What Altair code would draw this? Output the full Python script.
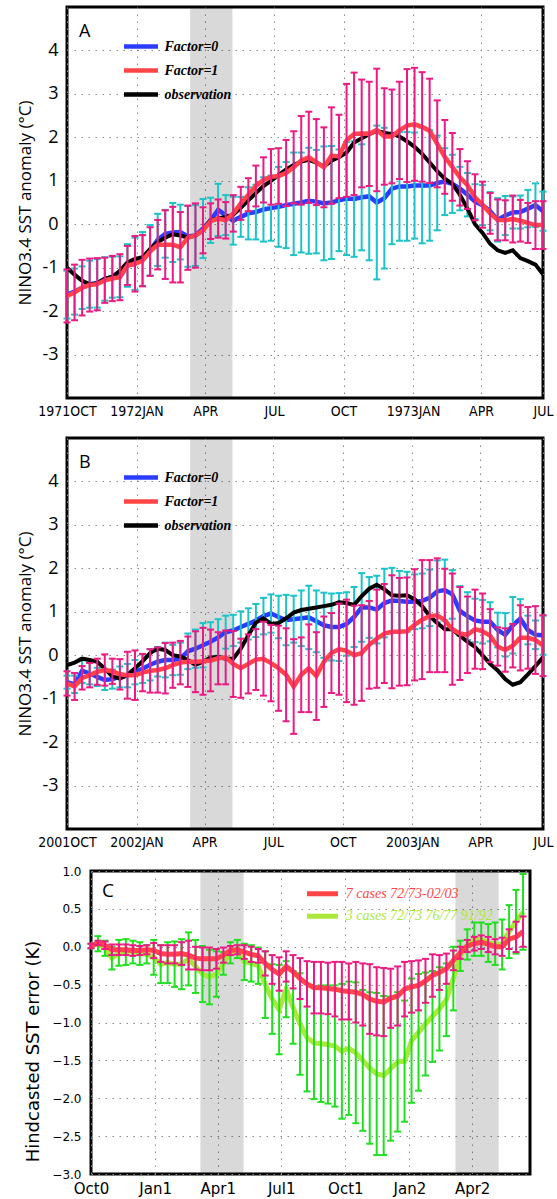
import altair as alt
import pandas as pd

# ---------------- data (10-day steps starting 1 Oct) ----------------
STEP_DAYS = 10

A_f0 = [-1.62, -1.55, -1.46, -1.38, -1.36, -1.26, -1.22, -1.21, -0.95, -0.91,
        -0.80, -0.60, -0.36, -0.22, -0.19, -0.18, -0.28, -0.26, -0.10, 0.09,
        0.33, 0.21, 0.08, 0.17, 0.25, 0.28, 0.34, 0.37, 0.40, 0.44,
        0.47, 0.50, 0.54, 0.52, 0.48, 0.50, 0.55, 0.59, 0.58, 0.62,
        0.64, 0.50, 0.60, 0.82, 0.87, 0.87, 0.89, 0.89, 0.89, 0.95,
        0.98, 0.93, 0.82, 0.68, 0.52, 0.44, 0.30, 0.10, 0.20, 0.27,
        0.28, 0.36, 0.44, 0.30]
A_f0_sd = [0.55, 0.53, 0.49, 0.54, 0.56, 0.50, 0.47, 0.47, 0.49, 0.60,
           0.62, 0.58, 0.60, 0.55, 0.68, 0.63, 0.70, 0.70, 0.68, 0.52,
           0.60, 0.46, 0.55, 0.46, 0.60, 0.63, 0.74, 0.75, 0.92, 0.99,
           1.18, 1.15, 1.22, 1.19, 1.31, 1.30, 1.17, 1.30, 1.33, 1.22,
           1.47, 1.77, 1.62, 1.28, 1.25, 1.25, 1.22, 1.33, 1.27, 1.09,
           0.77, 0.67, 0.50, 0.50, 0.40, 0.46, 0.44, 0.50, 0.45, 0.37,
           0.38, 0.43, 0.50, 0.45]
A_f1 = [-1.65, -1.57, -1.46, -1.40, -1.38, -1.29, -1.25, -1.22, -0.95, -0.91,
        -0.84, -0.63, -0.47, -0.47, -0.47, -0.53, -0.31, -0.26, -0.14, 0.07,
        0.13, 0.09, 0.25, 0.48, 0.68, 0.88, 1.02, 1.09, 1.11, 1.18,
        1.31, 1.47, 1.54, 1.43, 1.31, 1.58, 1.56, 1.93, 2.08, 2.09,
        2.08, 2.17, 2.02, 2.02, 2.16, 2.27, 2.30, 2.24, 2.15, 1.85,
        1.55, 1.32, 1.08, 0.90, 0.62, 0.45, 0.25, 0.10, 0.09, 0.12,
        0.08, 0.03, -0.02, -0.02]
A_f1_sd = [0.61, 0.64, 0.64, 0.61, 0.60, 0.52, 0.52, 0.53, 0.45, 0.64,
           0.59, 0.56, 0.57, 0.79, 0.87, 0.81, 0.74, 0.74, 0.53, 0.41,
           0.44, 0.42, 0.42, 0.38, 0.38, 0.47, 0.52, 0.64, 0.64, 0.76,
           0.83, 1.02, 1.05, 0.99, 0.92, 1.11, 0.96, 1.30, 1.41, 1.24,
           1.20, 1.41, 1.11, 1.08, 1.12, 1.30, 1.30, 1.26, 1.20, 1.00,
           0.85, 0.78, 0.65, 0.55, 0.53, 0.53, 0.47, 0.47, 0.46, 0.54,
           0.48, 0.46, 0.55, 0.55]
A_obs = [-1.00, -1.16, -1.30, -1.38, -1.36, -1.26, -1.21, -1.07, -0.88, -0.80,
         -0.76, -0.57, -0.41, -0.31, -0.23, -0.26, -0.31, -0.26, -0.14, 0.09,
         0.13, 0.17, 0.22, 0.38, 0.55, 0.72, 0.88, 1.00, 1.13, 1.26,
         1.36, 1.44, 1.48, 1.42, 1.33, 1.46, 1.54, 1.65, 1.88, 1.98,
         2.07, 2.15, 2.10, 2.08, 2.02, 1.91, 1.78, 1.62, 1.42, 1.22,
         1.05, 0.93, 0.68, 0.36, 0.00, -0.20, -0.45, -0.60, -0.66, -0.60,
         -0.78, -0.85, -0.93, -1.15]

B_f0 = [-0.62, -0.67, -0.36, -0.42, -0.50, -0.57, -0.55, -0.50, -0.47, -0.39,
        -0.31, -0.22, -0.15, -0.11, -0.11, -0.08, 0.09, 0.15, 0.23, 0.31,
        0.41, 0.53, 0.57, 0.65, 0.72, 0.80, 0.90, 0.96, 0.88, 0.81,
        0.83, 0.85, 0.87, 0.78, 0.69, 0.65, 0.65, 0.72, 0.88, 1.10,
        1.10, 1.05, 1.20, 1.26, 1.25, 1.23, 1.23, 1.25, 1.32, 1.47,
        1.50, 1.40, 1.02, 0.90, 0.80, 0.77, 0.77, 0.58, 0.47, 0.69,
        0.84, 0.58, 0.47, 0.46]
B_f0_sd = [0.15, 0.20, 0.28, 0.25, 0.21, 0.23, 0.22, 0.24, 0.27, 0.28,
           0.33, 0.36, 0.34, 0.40, 0.35, 0.37, 0.41, 0.44, 0.51, 0.45,
           0.42, 0.38, 0.36, 0.36, 0.36, 0.38, 0.42, 0.44, 0.49, 0.58,
           0.54, 0.64, 0.73, 0.71, 0.75, 0.77, 0.78, 0.73, 0.69, 0.79,
           0.70, 0.78, 0.79, 0.75, 0.69, 0.69, 0.63, 0.63, 0.65, 0.71,
           0.70, 0.56, 0.57, 0.55, 0.50, 0.50, 0.45, 0.40, 0.50, 0.65,
           0.45, 0.33, 0.33, 0.45]
B_f1 = [-0.65, -0.72, -0.52, -0.46, -0.38, -0.34, -0.37, -0.44, -0.46, -0.46,
        -0.40, -0.36, -0.34, -0.30, -0.23, -0.17, -0.15, -0.15, -0.14, -0.12,
        -0.07, -0.05, -0.20, -0.30, -0.20, -0.10, -0.08, -0.18, -0.30, -0.45,
        -0.72, -0.45, -0.30, -0.48, -0.15, 0.05, 0.14, 0.10, 0.00, 0.05,
        0.24, 0.38, 0.50, 0.54, 0.54, 0.55, 0.70, 0.82, 0.90, 0.92,
        0.80, 0.60, 0.50, 0.47, 0.60, 0.55, 0.45, 0.20, 0.12, 0.22,
        0.40, 0.40, 0.35, 0.22]
B_f1_sd = [0.28, 0.31, 0.27, 0.28, 0.30, 0.36, 0.29, 0.35, 0.54, 0.57,
           0.43, 0.50, 0.52, 0.58, 0.52, 0.50, 0.58, 0.70, 0.77, 0.71,
           0.60, 0.62, 0.76, 0.68, 0.68, 0.70, 0.85, 0.88, 0.98, 1.07,
           1.09, 0.86, 1.01, 1.01, 1.04, 0.92, 1.05, 1.18, 1.14, 1.10,
           1.01, 1.13, 1.14, 1.30, 1.24, 1.24, 1.28, 1.37, 1.29, 1.31,
           1.19, 1.28, 1.07, 0.88, 0.91, 0.87, 0.61, 0.44, 0.50, 0.50,
           0.75, 0.71, 0.78, 0.70]
B_obs = [-0.23, -0.17, -0.08, -0.11, -0.15, -0.31, -0.49, -0.54, -0.45, -0.30,
         -0.14, 0.05, 0.15, 0.12, 0.00, -0.03, -0.11, -0.22, -0.15, -0.05,
         -0.04, -0.08, -0.08, 0.15, 0.46, 0.75, 0.85, 0.72, 0.74, 0.85,
         0.98, 1.04, 1.07, 1.10, 1.13, 1.16, 1.22, 1.20, 1.16, 1.36,
         1.53, 1.62, 1.52, 1.38, 1.37, 1.38, 1.29, 1.13, 0.90, 0.74,
         0.60, 0.60, 0.45, 0.31, 0.19, 0.00, -0.20, -0.35, -0.55, -0.68,
         -0.62, -0.44, -0.25, -0.05]

C_7 = [0.01, 0.05, 0.02, -0.04, -0.04, -0.04, -0.05, -0.05, -0.04, -0.05,
       -0.09, -0.10, -0.10, -0.09, -0.11, -0.15, -0.16, -0.16, -0.16, -0.11,
       -0.05, -0.04, -0.07, -0.10, -0.12, -0.22, -0.30, -0.36, -0.26, -0.33,
       -0.42, -0.49, -0.54, -0.54, -0.55, -0.56, -0.58, -0.59, -0.60, -0.63,
       -0.69, -0.72, -0.73, -0.68, -0.65, -0.56, -0.53, -0.51, -0.45, -0.38,
       -0.34, -0.29, -0.18, -0.08, 0.01, 0.04, 0.06, 0.03, 0.00, 0.00,
       0.10, 0.13, 0.20]
C_7_sd = [0.03, 0.03, 0.05, 0.07, 0.07, 0.07, 0.07, 0.06, 0.06, 0.10,
          0.11, 0.12, 0.12, 0.15, 0.19, 0.15, 0.15, 0.15, 0.13, 0.10,
          0.06, 0.06, 0.09, 0.10, 0.09, 0.16, 0.19, 0.22, 0.20, 0.22,
          0.27, 0.30, 0.34, 0.34, 0.34, 0.36, 0.38, 0.37, 0.40, 0.41,
          0.46, 0.45, 0.45, 0.39, 0.39, 0.36, 0.34, 0.33, 0.29, 0.28,
          0.23, 0.20, 0.13, 0.08, 0.08, 0.09, 0.09, 0.10, 0.10, 0.12,
          0.13, 0.20, 0.20]
C_3 = [0.01, 0.04, -0.02, -0.15, -0.08, -0.07, -0.07, -0.09, -0.10, -0.14,
       -0.23, -0.21, -0.23, -0.23, -0.16, -0.26, -0.36, -0.40, -0.36, -0.22,
       -0.08, -0.03, -0.20, -0.22, -0.25, -0.50, -0.69, -0.83, -0.56, -0.80,
       -1.02, -1.20, -1.27, -1.28, -1.29, -1.31, -1.38, -1.34, -1.40, -1.50,
       -1.60, -1.68, -1.70, -1.61, -1.52, -1.51, -1.24, -1.13, -1.02, -0.92,
       -0.82, -0.70, -0.42, -0.12, 0.03, 0.10, 0.10, 0.05, 0.04, 0.03,
       0.20, 0.33, 0.46]
C_3_sd = [0.03, 0.10, 0.10, 0.15, 0.17, 0.17, 0.15, 0.15, 0.12, 0.23,
          0.25, 0.27, 0.30, 0.33, 0.35, 0.35, 0.37, 0.36, 0.30, 0.15,
          0.14, 0.12, 0.24, 0.24, 0.24, 0.44, 0.46, 0.59, 0.37, 0.48,
          0.67, 0.71, 0.74, 0.77, 0.78, 0.80, 0.89, 0.88, 0.93, 0.93,
          1.00, 1.07, 1.05, 0.95, 0.92, 0.80, 0.82, 0.77, 0.68, 0.60,
          0.55, 0.48, 0.42, 0.20, 0.20, 0.22, 0.22, 0.25, 0.28, 0.33,
          0.35, 0.42, 0.50]

# shaded spring bands (day offsets from 1 Oct)
A_band_start = [163]
A_band_end = [219]
C_band_start = [157, 523]
C_band_end = [219, 585]

A_ticks = [0, 92, 183, 274, 366, 458, 548, 630]
A_tick_labels = ["1971OCT", "1972JAN", "APR", "JUL", "OCT", "1973JAN", "APR", "JUL"]
B_ticks = [0, 92, 182, 273, 365, 457, 547, 630]
B_tick_labels = ["2001OCT", "2002JAN", "APR", "JUL", "OCT", "2003JAN", "APR", "JUL"]
C_ticks = [0, 92, 182, 273, 365, 457, 547]
C_tick_labels = ["Oct0", "Jan1", "Apr1", "Jul1", "Oct1", "Jan2", "Apr2"]

BLUE = "#2a3cff"
RED = "#ff4545"
MAGENTA = "#ec1a82"
CYAN = "#1cc3c8"
GREEN_BAR = "#1fe01f"
GREEN_LINE = "#abe83c"
GRID = "#8a8a8a"
X_MAX = 630


def series_df(mean, sd=None, name=""):
    d = pd.DataFrame({"day": [i * STEP_DAYS for i in range(len(mean))], "val": mean})
    if sd is not None:
        d["lo"] = [m - s for m, s in zip(mean, sd)]
        d["hi"] = [m + s for m, s in zip(mean, sd)]
    d["series"] = name
    return d


def label_expr(values, labels):
    parts = [f"datum.value == {v} ? '{l}'" for v, l in zip(values, labels)]
    return " : ".join(parts) + " : ''"


def x_axis(values, labels, font, size, pad):
    return alt.Axis(values=values, labelExpr=label_expr(values, labels), title=None,
                    ticks=False, domain=False, grid=True, gridDash=[1.5, 5.5],
                    gridColor=GRID, gridWidth=1, labelFont=font, labelFontSize=size,
                    labelColor="black", labelPadding=pad, labelFlush=False,
                    labelOverlap=False)


def errbars(df, color, X, Y, width=2.0, cap=3.5):
    base = alt.Chart(df)
    rule = base.mark_rule(color=color, strokeWidth=width).encode(
        x=X("day"), y=Y("lo"), y2="hi:Q")
    lo = base.mark_rule(color=color, strokeWidth=width, xOffset=-cap, x2Offset=cap).encode(
        x=X("day"), x2="day:Q", y=Y("lo"))
    hi = base.mark_rule(color=color, strokeWidth=width, xOffset=-cap, x2Offset=cap).encode(
        x=X("day"), x2="day:Q", y=Y("hi"))
    return [rule, lo, hi]


def spacer(w):
    return alt.Chart(pd.DataFrame({"a": [0]})).mark_rect(opacity=0).encode(
        x=alt.value(0), x2=alt.value(w), y=alt.value(0), y2=alt.value(1)
    ).properties(width=w, height=1, view=alt.ViewBackground(strokeOpacity=0))


def nino_panel(letter, f0, f0sd, f1, f1sd, obs, ticks, tick_labels):
    xscale = alt.Scale(domain=[0, X_MAX], nice=False, zero=False)
    xax = x_axis(ticks, tick_labels, "DejaVu Sans Condensed", 14, 6)
    yscale = alt.Scale(domain=[-4, 5], nice=False, zero=False)
    yax = alt.Axis(values=list(range(-3, 5)), labelExpr="replace(datum.label, '\u2212', '-')",
                   title="NINO3.4 SST anomaly (\u00b0C)", titleFont="Open Sans",
                   titleFontSize=17, titleFontWeight="normal", titleColor="black",
                   titlePadding=7, ticks=False, domain=False, grid=True,
                   gridDash=[1.5, 5.5], gridColor=GRID, labelFont="Open Sans",
                   labelFontSize=18, labelColor="black", labelPadding=9, labelFlush=False)

    def X(f):
        return alt.X(f"{f}:Q", scale=xscale, axis=xax)

    def Y(f):
        return alt.Y(f"{f}:Q", scale=yscale, axis=yax)

    cscale = alt.Scale(domain=["Factor=0", "Factor=1", "observation"], range=[BLUE, RED, "black"])
    legend = alt.Legend(title=None, orient="none", legendX=63, legendY=28.5,
                        symbolType="M-2,0L2,0", symbolSize=289, symbolStrokeWidth=4.5,
                        labelFont="Liberation Serif", labelFontStyle="italic",
                        labelFontWeight="bold", labelFontSize=14, labelColor="black",
                        labelOffset=12.5, rowPadding=4, padding=0)
    C = alt.Color("series:N", scale=cscale, legend=legend)

    band = alt.Chart(pd.DataFrame({"day": A_band_start, "day2": A_band_end})).mark_rect(
        color="black", opacity=0.15).encode(x=X("day"), x2="day2:Q")

    d0 = series_df(f0, f0sd, "Factor=0")
    d1 = series_df(f1, f1sd, "Factor=1")
    dob = series_df(obs, None, "observation")

    l0 = alt.Chart(d0).mark_line(strokeWidth=4.5).encode(x=X("day"), y=Y("val"), color=C)
    l1 = alt.Chart(d1).mark_line(strokeWidth=4.5).encode(x=X("day"), y=Y("val"), color=C)
    lob = alt.Chart(dob).mark_line(strokeWidth=4).encode(x=X("day"), y=Y("val"), color=C)

    lab = alt.Chart(pd.DataFrame({"t": [letter]})).mark_text(
        align="left", baseline="middle", font="Open Sans", fontSize=18, color="black"
    ).encode(x=alt.value(12), y=alt.value(25), text="t:N")

    layers = [band, l0] + errbars(d0, CYAN, X, Y) + [lob, l1] + errbars(d1, MAGENTA, X, Y) + [lab]
    return alt.layer(*layers).properties(width=476, height=391)


A = nino_panel("A", A_f0, A_f0_sd, A_f1, A_f1_sd, A_obs, A_ticks, A_tick_labels)
B = nino_panel("B", B_f0, B_f0_sd, B_f1, B_f1_sd, B_obs, B_ticks, B_tick_labels)

# ---------------- panel C ----------------
cx_scale = alt.Scale(domain=[0, X_MAX], nice=False, zero=False)
cx_axis = x_axis(C_ticks, C_tick_labels, "DejaVu Sans", 15, 7)
cy_scale = alt.Scale(domain=[-3, 1], nice=False, zero=False)
cy_axis = alt.Axis(values=[-3.0, -2.5, -2.0, -1.5, -1.0, -0.5, 0.0, 0.5, 1.0], format=".1f",
                   title="Hindcasted SST error  (K)", titleFont="DejaVu Sans", titleFontSize=18,
                   titleFontWeight="normal", titleColor="black", titlePadding=9,
                   titleY=180,
                   ticks=False, domain=False, grid=True, gridDash=[1.5, 5.5], gridColor=GRID,
                   labelFont="DejaVu Sans", labelFontSize=12, labelColor="black",
                   labelPadding=10, labelFlush=False)


def CX(f):
    return alt.X(f"{f}:Q", scale=cx_scale, axis=cx_axis)


def CY(f):
    return alt.Y(f"{f}:Q", scale=cy_scale, axis=cy_axis)


N7 = "7 cases 72/73-02/03"
N3 = "3 cases 72/73 76/77 91/92"
c_cscale = alt.Scale(domain=[N7, N3], range=[RED, GREEN_LINE])
c_legend = alt.Legend(title=None, orient="none", legendX=221, legendY=12.25,
                      symbolType="M-2,0L2,0", symbolSize=240, symbolStrokeWidth=5,
                      labelFont="Liberation Serif", labelFontStyle="italic",
                      labelFontSize=14,
                      labelColor={"expr": f"datum.value == '{N7}' ? '{RED}' : '{GREEN_LINE}'"},
                      labelOffset=12.75, rowPadding=1.5, padding=0)
CC = alt.Color("series:N", scale=c_cscale, legend=c_legend)

c_band = alt.Chart(pd.DataFrame({"day": C_band_start, "day2": C_band_end})).mark_rect(
    color="black", opacity=0.15).encode(x=CX("day"), x2="day2:Q")
d7 = series_df(C_7, C_7_sd, N7)
d3 = series_df(C_3, C_3_sd, N3)
l3 = alt.Chart(d3).mark_line(strokeWidth=5).encode(x=CX("day"), y=CY("val"), color=CC)
l7 = alt.Chart(d7).mark_line(strokeWidth=5).encode(x=CX("day"), y=CY("val"), color=CC)
c_lab = alt.Chart(pd.DataFrame({"t": ["C"]})).mark_text(
    align="left", baseline="middle", font="Open Sans", fontSize=19, color="black"
).encode(x=alt.value(11), y=alt.value(20), text="t:N")

C = alt.layer(*([c_band, l3] + errbars(d3, GREEN_BAR, CX, CY, 2.0, 3.5) + [l7]
                + errbars(d7, MAGENTA, CX, CY, 2.0, 3.5) + [c_lab])).properties(width=439, height=303)

RES = dict(color="independent", x="independent", y="independent")
ab = alt.vconcat(A, B, spacing=16).resolve_scale(**RES)
top = alt.hconcat(spacer(1), ab, spacing=0).resolve_scale(**RES)
bottom = alt.hconcat(spacer(9), C, spacing=0).resolve_scale(**RES)

chart = alt.vconcat(top, bottom, spacing=12).resolve_scale(**RES).properties(
    padding={"left": 14, "top": 5, "right": 0, "bottom": 0}
).configure_view(stroke="black", strokeWidth=3)

chart.save("out.html", embed_options={"renderer": "svg", "actions": False})
